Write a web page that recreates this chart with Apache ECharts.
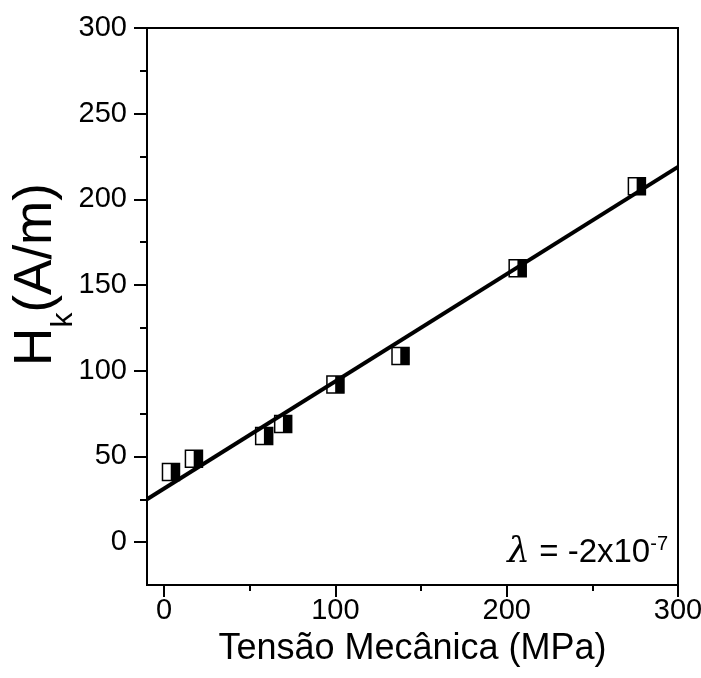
<!DOCTYPE html>
<html>
<head>
<meta charset="utf-8">
<script src="https://cdn.jsdelivr.net/npm/echarts@6/dist/echarts.min.js"></script>
<style>
  html, body { margin: 0; padding: 0; background: #fff; }
  #chart { width: 701px; height: 678px; }
</style>
</head>
<body>
<div id="chart"></div>
<script>
// dados
var stress = [4, 17.4, 58.4, 69.5, 100, 138, 206.4, 276];   // MPa
var hk = [40.9, 48.6, 62.0, 69.0, 92, 108.6, 159.8, 207.6]; // A/m
var fitX = [-10, 300];
var fitY = [25, 219];
var xMajor = [0, 100, 200, 300];
var xMinor = [50, 150, 250];
var yMajor = [0, 50, 100, 150, 200, 250, 300];
var yMinor = [25, 75, 125, 175, 225, 275];

function pairs(xs, ys) {
    return xs.map(function (x, i) { return [x, ys[i]]; });
}

var font = 'Liberation Sans, Arial, sans-serif';
var myChart = echarts.init(document.getElementById('chart'));
var option = {
    backgroundColor: '#fff',
    animation: false,
    grid: {
        left: 147, right: 23, top: 28, bottom: 93,
        outerBoundsMode: 'none', containLabel: false,
        show: true, borderColor: '#000', borderWidth: 2
    },
    xAxis: [{
        type: 'value', min: -10, max: 300,
        name: 'Tensão Mecânica (MPa)', nameLocation: 'middle', nameGap: 46,
        nameMoveOverlap: false,
        nameTextStyle: { fontFamily: font, fontSize: 36, color: '#000' },
        axisLine: { show: true, onZero: false, lineStyle: { color: '#000', width: 2 } },
        axisTick: { show: true, customValues: xMajor, length: 12, lineStyle: { color: '#000', width: 2 } },
        axisLabel: { customValues: xMajor, fontFamily: font, fontSize: 29, color: '#000', margin: 11 },
        splitLine: { show: false }
    }, {
        type: 'value', min: -10, max: 300, position: 'bottom',
        axisLine: { show: false, onZero: false },
        axisTick: { show: true, customValues: xMinor, length: 6, lineStyle: { color: '#000', width: 2 } },
        axisLabel: { show: false },
        splitLine: { show: false }
    }],
    yAxis: [{
        type: 'value', min: -25, max: 300,
        name: '{a|H}{b|k}{a|(A/m)}', nameLocation: 'middle', nameGap: 68, nameRotate: 90,
        nameMoveOverlap: false,
        nameTextStyle: {
            padding: [0, 0, 0, 64],
            rich: {
                a: { fontFamily: font, fontSize: 53, color: '#000', lineHeight: 56, padding: [0, 0, 16, 0], verticalAlign: 'bottom' },
                b: { fontFamily: font, fontSize: 30, color: '#000', lineHeight: 30, verticalAlign: 'bottom' }
            }
        },
        axisLine: { show: true, onZero: false, lineStyle: { color: '#000', width: 2 } },
        axisTick: { show: true, customValues: yMajor, length: 13, lineStyle: { color: '#000', width: 2 } },
        axisLabel: { customValues: yMajor, fontFamily: font, fontSize: 29, color: '#000', margin: 20 },
        splitLine: { show: false }
    }, {
        type: 'value', min: -25, max: 300, position: 'left',
        axisLine: { show: false, onZero: false },
        axisTick: { show: true, customValues: yMinor, length: 7, lineStyle: { color: '#000', width: 2 } },
        axisLabel: { show: false },
        splitLine: { show: false }
    }],
    graphic: {
        elements: [{
            type: 'text',
            right: 33, top: 534,
            style: {
                text: '{l|λ} = -2x10{s|-7}',
                fontFamily: font, fontSize: 33, fill: '#000',
                rich: {
                    l: { fontFamily: 'DejaVu Serif, serif', fontStyle: 'italic', fontSize: 36, fill: '#000' },
                    s: { fontFamily: font, fontSize: 20, fill: '#000', verticalAlign: 'top', padding: [0, 0, 17, 0] }
                }
            }
        }]
    },
    series: [{
        type: 'scatter', // quadrado aberto
        data: pairs(stress, hk),
        symbol: 'rect', symbolSize: 17,
        itemStyle: { color: '#fff', borderColor: '#000', borderWidth: 1.5, opacity: 1 },
        silent: true
    }, {
        type: 'scatter', // metade direita preenchida
        data: pairs(stress, hk),
        symbol: 'path://M0,0L1,0L1,2L0,2Z', symbolSize: [9, 17], symbolOffset: [4.25, 0],
        itemStyle: { color: '#000', opacity: 1 },
        silent: true
    }, {
        type: 'line', // ajuste linear
        data: pairs(fitX, fitY),
        symbol: 'none',
        lineStyle: { color: '#000', width: 4 },
        silent: true
    }]
};
myChart.setOption(option);
</script>
</body>
</html>
